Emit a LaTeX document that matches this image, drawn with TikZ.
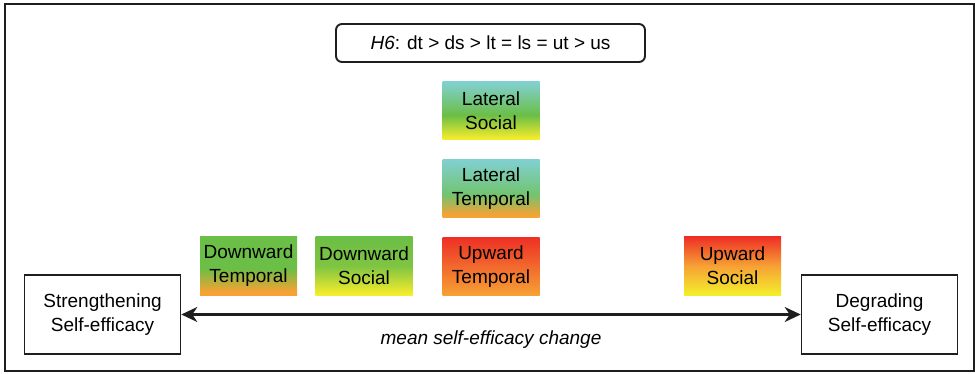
\documentclass[tikz,border=0pt]{standalone}
\usepackage{fontspec}
\setmainfont{Liberation Sans}
\usetikzlibrary{arrows.meta}

% palette
\definecolor{cTeal}{HTML}{80D0CF}
\definecolor{cGreen}{HTML}{6BBE46}
\definecolor{cYellow}{HTML}{F4EC2C}
\definecolor{cOrange}{HTML}{F6A234}
\definecolor{cRed}{HTML}{EE3026}
\definecolor{cFrame}{HTML}{1E1E1E}

% vertical gradients (bottom -> top); the box spans 25bp..75bp
\pgfdeclareverticalshading{latSoc}{100bp}{color(0bp)=(cYellow); color(26bp)=(cYellow); color(46bp)=(cGreen); color(74bp)=(cTeal); color(100bp)=(cTeal)}
\pgfdeclareverticalshading{latTem}{100bp}{color(0bp)=(cOrange); color(27bp)=(cOrange); color(45bp)=(cGreen!70!cTeal); color(74bp)=(cTeal); color(100bp)=(cTeal)}
\pgfdeclareverticalshading{upTem}{100bp}{color(0bp)=(cOrange); color(25bp)=(cOrange); color(75bp)=(cRed); color(100bp)=(cRed)}
\pgfdeclareverticalshading{downTem}{100bp}{color(0bp)=(cOrange); color(28bp)=(cOrange); color(48bp)=(cGreen); color(75bp)=(cGreen); color(100bp)=(cGreen)}
\pgfdeclareverticalshading{downSoc}{100bp}{color(0bp)=(cYellow); color(26bp)=(cYellow); color(50bp)=(cGreen!85!cYellow); color(75bp)=(cGreen); color(100bp)=(cGreen)}
\pgfdeclareverticalshading{upSoc}{100bp}{color(0bp)=(cYellow); color(26bp)=(cYellow); color(50bp)=(cOrange); color(75bp)=(cRed); color(100bp)=(cRed)}

\tikzset{
  txt/.style={font=\fontsize{19}{24}\selectfont, align=center},
  tile/.style={txt, minimum width=97pt, minimum height=58pt, inner sep=0pt},
  endbox/.style={txt, draw=cFrame, line width=1.6pt, minimum width=156pt, minimum height=79pt, inner sep=0pt},
  hypbox/.style={txt, draw=cFrame, line width=1.9pt, rounded corners=6pt, minimum width=309pt, minimum height=38pt, inner sep=0pt},
  tip/.style={Stealth[length=16pt,width=15pt,inset=5pt]},
  scaleline/.style={draw=cFrame, line width=2.2pt, {Stealth[length=16pt,width=15pt,inset=5pt]}-{Stealth[length=16pt,width=15pt,inset=5pt]}}
}

\begin{document}
\begin{tikzpicture}[x=1pt,y=-1pt]
  \useasboundingbox (0,0) rectangle (975,374);
  % outer frame
  \draw[cFrame, line width=2.4pt] (5,4) rectangle (974,371);

  % hypothesis
  \node[hypbox] (hyp) at (490.5,43) {\textit{H6}: dt > ds > lt = ls = ut > us};

  % comparison tiles
  \node[tile, shading=latSoc]  (ls) at (491,110.5) {Lateral\\Social};
  \node[tile, shading=latTem]  (lt) at (491,188.5) {Lateral\\Temporal};
  \node[tile, shading=upTem]   (ut) at (491,266.5) {Upward\\Temporal};
  \node[tile, shading=downTem] (dt) at (248.5,266) {Downward\\Temporal};
  \node[tile, shading=downSoc] (ds) at (364,266) {Downward\\Social};
  \node[tile, shading=upSoc]   (us) at (732.5,266) {Upward\\Social};

  % end points of the scale
  \node[endbox] (str) at (102.5,314.5) {Strengthening\\Self-efficacy};
  \node[endbox] (deg) at (879.5,314.5) {Degrading\\Self-efficacy};

  \draw[scaleline] (str.east) -- (deg.west)
    node[midway, below=12pt, txt, font=\fontsize{19}{24}\selectfont\itshape] (lab) {mean self-efficacy change};
\end{tikzpicture}
\end{document}
